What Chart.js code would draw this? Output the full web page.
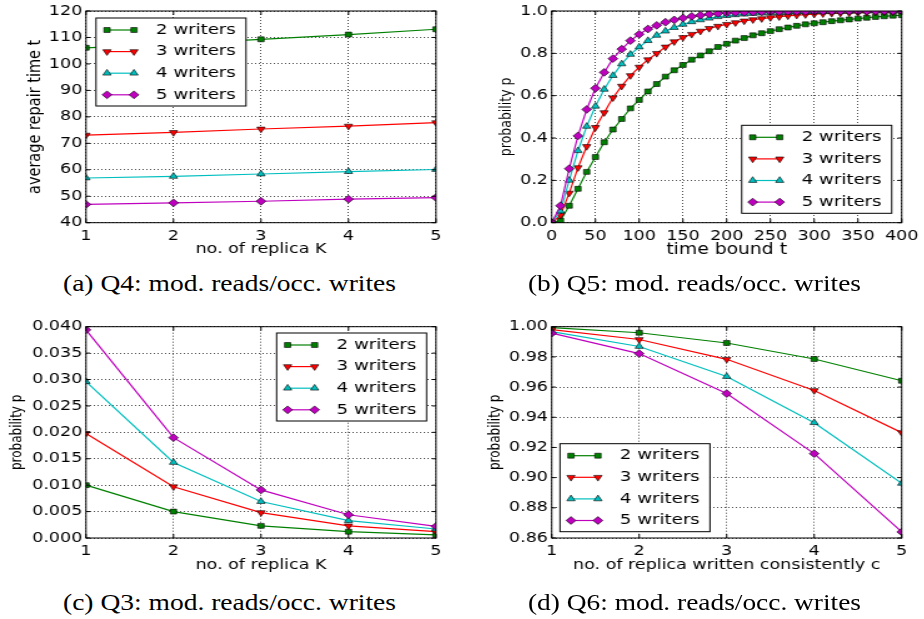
<!DOCTYPE html>
<html><head><meta charset="utf-8">
<script src="https://cdn.jsdelivr.net/npm/chart.js@4.4.0/dist/chart.umd.min.js"></script>
<style>
html,body{margin:0;padding:0;background:#fff;width:924px;height:619px;overflow:hidden;position:relative}
canvas.pane{position:absolute;transform-origin:0 0;transform:scaleX(1.25)}
.cap{position:absolute;font-family:"Liberation Serif",serif;font-size:24px;line-height:24px;white-space:nowrap;color:#000}
</style></head><body>
<canvas id="ca" class="pane" width="370" height="262" style="left:0;top:0"></canvas>
<canvas id="cb" class="pane" width="370" height="262" style="left:462px;top:0"></canvas>
<canvas id="cc" class="pane" width="370" height="280" style="left:0;top:300px"></canvas>
<canvas id="cd" class="pane" width="370" height="280" style="left:462px;top:300px"></canvas>
<div class="cap" data-cx="229" style="top:271px">(a) Q4: mod. reads/occ. writes</div>
<div class="cap" data-cx="694" style="top:271px">(b) Q5: mod. reads/occ. writes</div>
<div class="cap" data-cx="229" style="top:590px">(c) Q3: mod. reads/occ. writes</div>
<div class="cap" data-cx="694" style="top:590px">(d) Q6: mod. reads/occ. writes</div>
<script>
// ---------- data ----------
const seriesNames = ['2 writers', '3 writers', '4 writers', '5 writers'];
const replicaK = [1, 2, 3, 4, 5];
const timeBound = [0,10,20,30,40,50,60,70,80,90,100,110,120,130,140,150,160,170,180,190,200,
  210,220,230,240,250,260,270,280,290,300,310,320,330,340,350,360,370,380,390,400];

// (a) Q4 average repair time
const repairTime2 = [106.1, 107.6, 109.3, 111.1, 113.1];
const repairTime3 = [73.1, 74.1, 75.4, 76.5, 77.8];
const repairTime4 = [56.9, 57.5, 58.4, 59.3, 60.1];
const repairTime5 = [46.9, 47.5, 48.1, 48.9, 49.5];

// (b) Q5 probability within time bound
const boundProb2 = [0,0.01,0.08,0.16,0.24,0.31,0.38,0.44,0.49,0.54,0.58,0.62,0.655,0.69,0.72,0.745,0.77,0.79,0.81,0.83,
  0.845,0.86,0.872,0.885,0.895,0.905,0.914,0.922,0.93,0.937,0.942,0.947,0.952,0.956,0.96,0.964,0.968,0.972,0.975,0.978,0.98];
const boundProb3 = [0,0.035,0.14,0.26,0.36,0.45,0.52,0.59,0.645,0.695,0.735,0.77,0.80,0.83,0.855,0.875,0.89,0.905,0.918,0.928,
  0.937,0.945,0.953,0.959,0.964,0.969,0.973,0.977,0.98,0.983,0.985,0.987,0.989,0.99,0.991,0.992,0.993,0.994,0.995,0.995,0.996];
const boundProb4 = [0,0.055,0.20,0.34,0.455,0.55,0.63,0.695,0.75,0.795,0.83,0.86,0.885,0.905,0.922,0.937,0.949,0.958,0.966,0.973,
  0.978,0.982,0.985,0.988,0.99,0.992,0.993,0.994,0.995,0.996,0.997,0.997,0.998,0.998,0.998,0.999,0.999,0.999,0.999,0.999,0.999];
const boundProb5 = [0,0.08,0.255,0.41,0.535,0.635,0.71,0.775,0.82,0.86,0.89,0.915,0.932,0.947,0.958,0.967,0.975,0.98,0.985,0.988,
  0.991,0.993,0.994,0.995,0.996,0.997,0.997,0.998,0.998,0.998,0.999,0.999,0.999,0.999,1.0,1.0,1.0,1.0,1.0,1.0,1.0];

// (c) Q3 probability
const incProb2 = [0.0100, 0.0050, 0.0023, 0.0012, 0.0006];
const incProb3 = [0.0198, 0.0097, 0.0048, 0.0023, 0.0012];
const incProb4 = [0.0296, 0.0143, 0.0069, 0.0033, 0.0017];
const incProb5 = [0.0394, 0.0190, 0.0091, 0.0044, 0.0022];

// (d) Q6 probability
const consProb2 = [0.9994, 0.9960, 0.9892, 0.9786, 0.9642];
const consProb3 = [0.9981, 0.9915, 0.9784, 0.9577, 0.9298];
const consProb4 = [0.9967, 0.9869, 0.9670, 0.9364, 0.8962];
const consProb5 = [0.9957, 0.9822, 0.9557, 0.9159, 0.8640];

// tick values
const ticksRepair = [40, 50, 60, 70, 80, 90, 100, 110, 120];
const ticksTime = [0, 50, 100, 150, 200, 250, 300, 350, 400];
const ticksProbB = [0, 0.2, 0.4, 0.6, 0.8, 1.0];
const ticksProbC = [0, 0.005, 0.010, 0.015, 0.020, 0.025, 0.030, 0.035, 0.040];
const ticksProbD = [0.86, 0.88, 0.90, 0.92, 0.94, 0.96, 0.98, 1.00];

// ---------- styling ----------
Chart.defaults.font.family = 'DejaVu Sans';
Chart.defaults.color = '#000';
const COLORS = ['#008000', '#ff0000', '#00bfbf', '#bf00bf'];
const MARKERS = [['rect', 0, 3.5], ['triangle', 180, 3.8], ['triangle', 0, 3.8], ['rectRot', 0, 3.9]];

function makeDatasets(xs, seriesList) {
  return seriesList.map((ys, i) => ({
    label: seriesNames[i],
    data: xs.map((x, j) => ({x: x, y: ys[j]})),
    borderColor: COLORS[i], backgroundColor: COLORS[i], borderWidth: 1.2,
    pointStyle: MARKERS[i][0], pointRotation: MARKERS[i][1], pointRadius: MARKERS[i][2],
    pointBackgroundColor: COLORS[i], pointBorderColor: '#000', pointBorderWidth: 0.6,
    tension: 0, fill: false, order: 3 - i
  }));
}

function drawMarker(ctx, d, x, y) {
  const r = d.pointRadius;
  ctx.save();
  ctx.beginPath();
  if (d.pointStyle === 'rect') {
    const s = r * Math.SQRT1_2;
    ctx.rect(x - s, y - s, 2 * s, 2 * s);
  } else if (d.pointStyle === 'triangle') {
    let rad = (d.pointRotation || 0) * Math.PI / 180;
    ctx.moveTo(x + Math.sin(rad) * r, y - Math.cos(rad) * r);
    rad += 2 * Math.PI / 3; ctx.lineTo(x + Math.sin(rad) * r, y - Math.cos(rad) * r);
    rad += 2 * Math.PI / 3; ctx.lineTo(x + Math.sin(rad) * r, y - Math.cos(rad) * r);
    ctx.closePath();
  } else {
    ctx.moveTo(x - r, y); ctx.lineTo(x, y - r); ctx.lineTo(x + r, y); ctx.lineTo(x, y + r); ctx.closePath();
  }
  ctx.fillStyle = d.pointBackgroundColor; ctx.fill();
  ctx.lineWidth = d.pointBorderWidth; ctx.strokeStyle = '#000'; ctx.stroke();
  ctx.restore();
}

const mplPlugin = {
  id: 'mpl',
  afterDatasetsDraw(chart, args, opts) {
    const {ctx, chartArea: a, scales} = chart;
    ctx.save();
    ctx.strokeStyle = '#000'; ctx.lineWidth = 1;
    ctx.beginPath();
    scales.x.ticks.forEach(t => {
      const px = scales.x.getPixelForValue(t.value);
      ctx.moveTo(px, a.bottom); ctx.lineTo(px, a.bottom - 4);
      ctx.moveTo(px, a.top); ctx.lineTo(px, a.top + 4);
    });
    scales.y.ticks.forEach(t => {
      const py = scales.y.getPixelForValue(t.value);
      ctx.moveTo(a.left, py); ctx.lineTo(a.left + 3.2, py);
      ctx.moveTo(a.right, py); ctx.lineTo(a.right - 3.2, py);
    });
    ctx.stroke();
    ctx.strokeRect(a.left, a.top, a.right - a.left, a.bottom - a.top);
    // legend
    const bw = 120, bh = 88;
    const bx = opts.h === 'left' ? a.left + opts.mx : a.right - opts.mx - bw;
    const by = opts.v === 'top' ? a.top + opts.my : a.bottom - opts.my - bh;
    ctx.fillStyle = '#fff'; ctx.fillRect(bx, by, bw, bh);
    ctx.strokeStyle = '#000'; ctx.lineWidth = 1; ctx.strokeRect(bx, by, bw, bh);
    chart.data.datasets.forEach((d, i) => {
      const y = by + 12 + i * 21.6;
      ctx.beginPath(); ctx.strokeStyle = d.borderColor; ctx.lineWidth = d.borderWidth;
      ctx.moveTo(bx + 8.8, y); ctx.lineTo(bx + 30.4, y); ctx.stroke();
      drawMarker(ctx, d, bx + 8.8, y); drawMarker(ctx, d, bx + 30.4, y);
      ctx.fillStyle = '#000'; ctx.font = '14.5px "DejaVu Sans"'; ctx.textBaseline = 'middle'; ctx.textAlign = 'left';
      ctx.fillText(d.label, bx + 48, y);
    });
    ctx.restore();
  }
};

function xAxis(min, max, vals, dec, title, tSize, tPad, h) {
  return {
    type: 'linear', min: min, max: max,
    afterBuildTicks: s => { s.ticks = vals.map(v => ({value: v})); },
    ticks: {autoSkip: false, maxRotation: 0, minRotation: 0, padding: 5, color: '#000',
      font: {size: 14}, callback: v => Number(v).toFixed(dec)},
    grid: {color: 'rgba(0,0,0,0.7)', lineWidth: 1, drawTicks: false},
    border: {display: false, dash: [1, 2]},
    title: {display: true, text: title, color: '#000', font: {size: tSize}, padding: {top: 0, bottom: tPad}},
    afterFit: s => { s.height = h; s.paddingLeft = 0; s.paddingRight = 0; }
  };
}
function yAxis(min, max, vals, dec, title, tSize, tPad, w) {
  return {
    type: 'linear', min: min, max: max,
    afterBuildTicks: s => { s.ticks = vals.map(v => ({value: v})); },
    ticks: {autoSkip: false, padding: 3, color: '#000', font: {size: 14}, callback: v => Number(v).toFixed(dec)},
    grid: {color: 'rgba(0,0,0,0.7)', lineWidth: 1, drawTicks: false},
    border: {display: false, dash: [1, 2]},
    title: {display: true, text: title, color: '#000', font: {size: tSize}, padding: {top: tPad, bottom: 0}},
    afterFit: s => { s.width = w; s.paddingTop = 0; s.paddingBottom = 0; }
  };
}

function makeChart(id, xs, series, xA, yA, pad, legend) {
  new Chart(document.getElementById(id), {
    type: 'line',
    data: {datasets: makeDatasets(xs, series)},
    options: {
      responsive: false, animation: false, events: [],
      layout: {padding: pad},
      scales: {x: xA, y: yA},
      plugins: {legend: {display: false}, tooltip: {enabled: false}, mpl: legend}
    },
    plugins: [mplPlugin]
  });
}

makeChart('ca', replicaK, [repairTime2, repairTime3, repairTime4, repairTime5],
  xAxis(1, 5, replicaK, 0, 'no. of replica K', 14, 4.6, 39.3),
  yAxis(40, 120, ticksRepair, 0, 'average repair time t', 14.5, 19.6, 68.8),
  {left: 0, top: 11, right: 21.2, bottom: 0}, {h: 'left', v: 'top', mx: 8, my: 7});

makeChart('cb', timeBound, [boundProb2, boundProb3, boundProb4, boundProb5],
  xAxis(0, 400, ticksTime, 0, 'time bound t', 15, 3, 39.3),
  yAxis(0, 1, ticksProbB, 1, 'probability p', 12.5, 28.4, 71.76),
  {left: 0, top: 11, right: 18.24, bottom: 0}, {h: 'right', v: 'bottom', mx: 8, my: 9.4});

makeChart('cc', replicaK, [incProb2, incProb3, incProb4, incProb5],
  xAxis(1, 5, replicaK, 0, 'no. of replica K', 14, 6.6, 42),
  yAxis(0, 0.04, ticksProbC, 3, 'probability p', 12, 6.8, 68.8),
  {left: 0, top: 26.7, right: 21.2, bottom: 0}, {h: 'right', v: 'top', mx: 7.5, my: 6.3});

makeChart('cd', replicaK, [consProb2, consProb3, consProb4, consProb5],
  xAxis(1, 5, replicaK, 0, 'no. of replica written consistently c', 14, 6.6, 42),
  yAxis(0.86, 1.0, ticksProbD, 2, 'probability p', 12, 19.6, 71.76),
  {left: 0, top: 26.7, right: 18.24, bottom: 0}, {h: 'left', v: 'bottom', mx: 6.6, my: 6.3});

document.querySelectorAll('.cap').forEach(el => {
  const w = el.getBoundingClientRect().width;
  const target = 333;
  const cx = Number(el.dataset.cx);
  el.style.left = (cx - target / 2) + 'px';
  el.style.transformOrigin = '0 0';
  el.style.transform = 'scaleX(' + (target / w) + ')';
});
</script>
</body></html>
